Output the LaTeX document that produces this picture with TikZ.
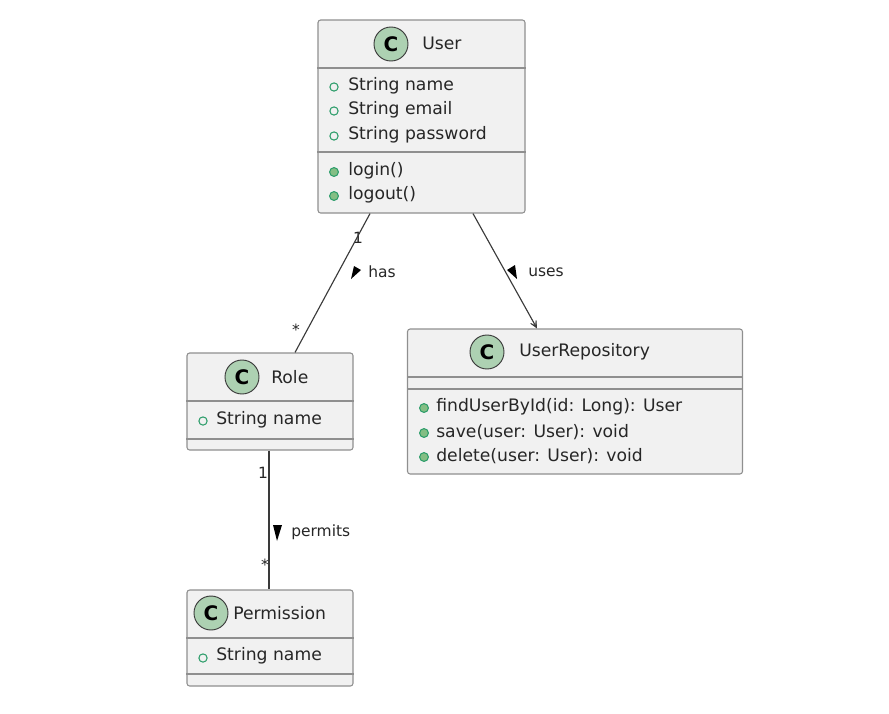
\documentclass[tikz,border=0pt]{standalone}
\usepackage{fontspec}
\setmainfont{DejaVu Sans}
\usetikzlibrary{positioning}
\usetikzlibrary{arrows.meta}
\tikzset{>={Stealth[width=3.4mm,length=3.6mm,inset=2.7mm]}}
\definecolor{boxfill}{HTML}{F1F1F1}
\definecolor{boxline}{HTML}{8F8F8F}
\definecolor{spotfill}{HTML}{ADD1B2}
\definecolor{memberline}{HTML}{2E9E6B}
\definecolor{methodfill}{HTML}{84BE84}
\definecolor{edgeline}{HTML}{3A3A3A}

\begin{document}
\begin{tikzpicture}[x=0.75pt, y=-0.75pt, classbox/.style={draw=boxline, fill=boxfill, line width=0.8pt, rounded corners=2pt, minimum width=#1, inner sep=0pt}, divider/.style={draw=boxline, line width=0.8pt}, spot/.style={circle, draw=edgeline, fill=spotfill, line width=0.7pt, minimum size=25.5pt, inner sep=0pt, font=\fontsize{15}{15}\selectfont\bfseries}, titletext/.style={font=\fontsize{12.9}{15}\selectfont, text=black!85, inner sep=0pt}, membertext/.style={anchor=west, font=\fontsize{12.9}{15}\selectfont, text=black!85, inner sep=0pt}, edgetext/.style={anchor=west, font=\fontsize{11.6}{14}\selectfont, text=black!85, inner sep=0pt}, field/.style={circle, draw=memberline, fill=none, line width=0.8pt, minimum size=6.2pt, inner sep=0pt}, method/.style={circle, draw=memberline, fill=methodfill, line width=0.8pt, minimum size=6.6pt, inner sep=0pt}, edge/.style={draw=edgeline, line width=0.85pt}, sidetri/.style={fill=black, draw=none}]

    \useasboundingbox (0,0) rectangle (889,714);

    %Nodes
    \node[classbox=155.25pt, minimum height=144.75pt](user) at (421.5,116.5){};
    \node[classbox=124.5pt, minimum height=72.75pt](role) at (270,401.5){};
    \node[classbox=251.25pt, minimum height=108.75pt](repo) at (575,401.5){};
    \node[classbox=124.5pt, minimum height=72pt](permission) at (270,638){};

    \node[spot](user_spot) at (391,44){C};
    \node[titletext](user_title)[anchor=west] at (422,43){User};
    \node[field](f1) at (334,87){};
    \node[membertext](f1_text) at (348,86){String name};
    \node[field](f2) at (334,111){};
    \node[membertext](f2_text) at (348,110){String email};
    \node[field](f3) at (334,136){};
    \node[membertext](f3_text) at (348,135){String password};
    \node[method](m1) at (334,172){};
    \node[membertext](m1_text) at (348,171){login()};
    \node[method](m2) at (334,196){};
    \node[membertext](m2_text) at (348,195){logout()};

    \node[spot](role_spot) at (242,377){C};
    \node[titletext](role_title)[anchor=west] at (271,377){Role};
    \node[field](f4) at (203,421){};
    \node[membertext](f4_text) at (216,420){String name};

    \node[spot](repo_spot) at (487,352){C};
    \node[titletext](repo_title)[anchor=west] at (519,352){UserRepository};
    \node[method](m3) at (424,408){};
    \node[membertext](m3_text) at (436,407){findUserById(id: Long): User};
    \node[method](m4) at (424,433){};
    \node[membertext](m4_text) at (436,432){save(user: User): void};
    \node[method](m5) at (424,457){};
    \node[membertext](m5_text) at (436,456){delete(user: User): void};

    \node[spot](permission_spot) at (211,613){C};
    \node[titletext](permission_title)[anchor=west] at (233,613){Permission};
    \node[field](f5) at (203,658){};
    \node[membertext](f5_text) at (216,656){String name};

    \node[edgetext](one_a)[anchor=center] at (358,238){1};
    \node[edgetext](many_a)[anchor=center] at (296,330){*};
    \node[edgetext](has_text) at (368,272){has};
    \node[edgetext](uses_text) at (528,272){uses};
    \node[edgetext](one_b)[anchor=center] at (263,473){1};
    \node[edgetext](many_b)[anchor=center] at (265,565){*};
    \node[edgetext](permits_text) at (291,532){permits};

    %Lines
    \draw[divider] (user.west |- 0,68) -- (user.east |- 0,68);
    \draw[divider] (user.west |- 0,152) -- (user.east |- 0,152);
    \draw[divider] (role.west |- 0,401) -- (role.east |- 0,401);
    \draw[divider] (role.west |- 0,439) -- (role.east |- 0,439);
    \draw[divider] (repo.west |- 0,377) -- (repo.east |- 0,377);
    \draw[divider] (repo.west |- 0,389) -- (repo.east |- 0,389);
    \draw[divider] (permission.west |- 0,638) -- (permission.east |- 0,638);
    \draw[divider] (permission.west |- 0,674) -- (permission.east |- 0,674);

    \draw[edge] ([xshift=-38.6pt]user.south) -- ([xshift=18.75pt]role.north);
    \draw[edge, ->] ([xshift=38.6pt]user.south) -- ([xshift=-28.5pt]repo.north);
    \draw[edge] ([xshift=-0.75pt]role.south) -- ([xshift=-0.75pt]permission.north);

    \fill[sidetri] (351,279) -- (361,270) -- (354,266) -- cycle;
    \fill[sidetri] (517,279) -- (507,270) -- (515,265) -- cycle;
    \fill[sidetri] (277,541) -- (273,525) -- (282,525) -- cycle;

\end{tikzpicture}
\end{document}
